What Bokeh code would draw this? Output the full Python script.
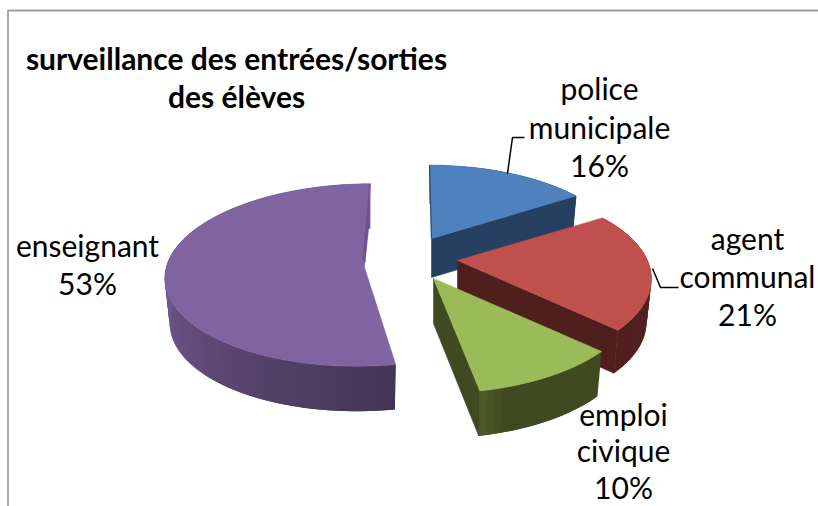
import math
from bokeh.plotting import figure
from bokeh.models import Range1d
from bokeh.core.properties import value
from bokeh.embed import file_html
from bokeh.resources import INLINE

# data
categories = ["police municipale", "agent communal", "emploi civique", "enseignant"]
shares = [16, 21, 10, 53]
title_lines = ["surveillance des entrées/sorties", "des élèves"]
label_lines = [["police", "municipale", "16%"], ["agent", "communal", "21%"],
               ["emploi", "civique", "10%"], ["enseignant", "53%"]]

# styles and layout
top_colors = ["#4f81bd", "#c0504d", "#9bbb59", "#8064a2"]
cut_colors = ["#254061", "#4f1f1e", "#3f4a20", None]
wall_from = ["#254061", "#4f1f1e", "#4f6029", "#433454"]
wall_to = ["#254061", "#5a2423", "#3f4a20", "#73598f"]
#         cx   cy   ax   ay   a    b   persp skew depth
geom = [(431, 238, 431, 238, 191, 88, .20, -2, 39),
        (457, 260, 457, 260, 190, 88, .20, 0, 43),
        (433, 278, 433, 278, 199, 92, .20, 0, 45),
        (363, 270, 364, 267, 198, 91, .05, 7, 45)]
label_pos = [(599, [87, 126, 164]), (747, [237, 275, 313]),
             (623, [413, 449, 486]), (87, [244, 282])]
leaders = [([507, 512, 524], [173, 137, 137]), ([652, 660, 678], [268, 287, 287])]
FONT = "Lato"

p = figure(width=818, height=506, x_range=Range1d(0, 818), y_range=Range1d(506, 0),
           x_axis_type=None, y_axis_type=None, toolbar_location=None,
           output_backend="svg", min_border=0, outline_line_color=None)

# chart frame
p.line([7.5, 7.5], [506, 10], line_color="#a0a0a0", line_width=1.8)
p.line([7, 818], [10, 10], line_color="#a0a0a0", line_width=1.8)


def mix(c1, c2, t):
    a = [int(c1[i:i + 2], 16) for i in (1, 3, 5)]
    b = [int(c2[i:i + 2], 16) for i in (1, 3, 5)]
    return "#%02x%02x%02x" % tuple(round(u + (v - u) * t) for u, v in zip(a, b))


total = sum(shares)
start = 0.0
for i, v in enumerate(shares):
    end = start + v / total * 360
    cx, cy, ax, ay, a, b, pr, sk, d = geom[i]

    def pt(deg):
        t = math.radians(deg)
        f = 1 / (1 + pr * math.cos(t))
        return cx + a * math.sin(t) * f + sk * math.cos(t), cy - b * math.cos(t) * f

    def low(q):
        return cx + (q[0] - cx) * 0.975, q[1] + d

    n = max(6, int(v * 2))
    degs = [start + (end - start) * k / n for k in range(n + 1)]
    arc = [pt(g) for g in degs]

    # outer wall, shaded step by step; each step overlaps the next to hide seams
    for k in range(n):
        q1, q2 = arc[k], arc[min(k + 2, n)]
        r1, r2 = low(q1), low(q2)
        if i == 2:
            t = min(1, (n - k) / 4)
        elif i == 3:
            t = min(1, k / (n * 0.55))
        else:
            t = 1 - k / n
        col = mix(wall_from[i], wall_to[i], t)
        if i == 3:
            # the purple wall runs from dark (front) to lighter (left)
            q1, q2 = arc[max(k - 1, 0)], arc[k + 1]
            r1, r2 = low(q1), low(q2)
        p.patch([q1[0], q2[0], r2[0], r1[0]], [q1[1], q2[1], r2[1], r1[1]],
                fill_color=col, line_color=None)

    # cut wall at the end of the slice
    if cut_colors[i]:
        src = arc[-1]
        bot = low(src)
        p.patch([ax, src[0], bot[0], ax], [ay, src[1], bot[1], ay + d],
                fill_color=cut_colors[i], line_color=cut_colors[i], line_width=0.6)

    # top face
    xs = [ax] + [q[0] for q in arc]
    ys = [ay] + [q[1] for q in arc]
    p.patch(xs, ys, fill_color=top_colors[i], line_color=top_colors[i], line_width=0.6)

    # thin back cut along twelve o'clock
    if i == 0:
        p.line([arc[0][0], ax], [arc[0][1], ay], line_color="#2d4d75", line_width=1.2)
    if i == 3:
        q = arc[-1]
        p.patch([q[0] - 1, q[0] - 1.5, ax + 0.5, ax - 1.5], [q[1], ay - 42, ay - 5, ay - 8],
                fill_color="#6c5290", line_color="#6c5290", line_width=0.4)
    start = end

# leader lines
for lx, ly in leaders:
    p.line(lx, ly, line_color="#000000", line_width=1.5)

# labels
for (x, rows), lines in zip(label_pos, label_lines):
    p.text([x] * len(lines), rows, text=lines, text_font=value(FONT), text_font_size="30px",
           text_align="center", text_baseline="middle", text_color="#000000")

# title
p.text([236, 236], [57, 95], text=title_lines, text_font=value(FONT), text_font_size="30px",
       text_font_style="bold", text_align="center", text_baseline="middle", text_color="#000000")

open("out.html", "w").write(file_html(p, INLINE))
